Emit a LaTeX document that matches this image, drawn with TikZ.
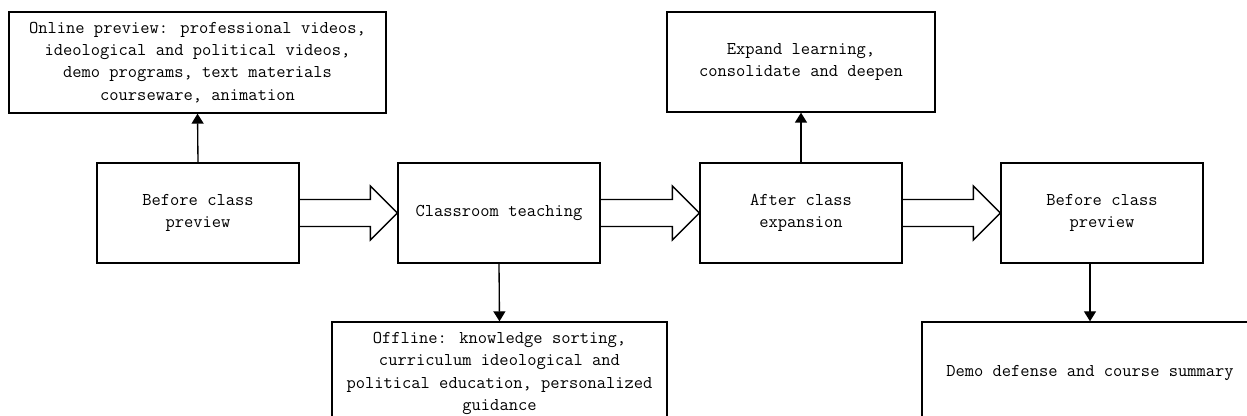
\documentclass[tikz,border=0pt]{standalone}
\usetikzlibrary{calc}
\usetikzlibrary{arrows.meta}
\tikzset{
  stagebox/.style={draw=black, line width=1pt, inner sep=0pt, align=center,
    font=\fontsize{13.5}{16.7}\selectfont\ttfamily},
  flowline/.style={black, line width=1pt, -{Triangle[length=7.5pt,width=9pt]}},
  bigarrow/.style={black, line width=1pt, line join=miter}
}
\begin{document}
\begin{tikzpicture}[x=0.75pt, y=-0.75pt]
\useasboundingbox (0,0) rectangle (1247,416);
\clip (0,0) rectangle (1247,416);
\node[stagebox, minimum width=151.5pt, minimum height=75pt] (pre) at (198,213) {Before class\\preview};
\node[stagebox, minimum width=151.5pt, minimum height=75pt] (teach) at (499,213) {Classroom teaching};
\node[stagebox, minimum width=151.5pt, minimum height=75pt] (post) at (801,213) {After class\\expansion};
\node[stagebox, minimum width=151.5pt, minimum height=75pt] (pre2) at (1102,213) {Before class\\preview};
\node[stagebox, minimum width=282.75pt, minimum height=75.75pt] (online) at (197.5,62.5) {Online preview: professional videos,\\ideological and political videos,\\demo programs, text materials\\courseware, animation};
\node[stagebox, minimum width=201pt, minimum height=75pt] (expand) at (801,62) {Expand learning,\\consolidate and deepen};
\node[stagebox, minimum width=251.25pt, minimum height=77.25pt] (offline) at (499.5,373.5) {Offline: knowledge sorting,\\curriculum ideological and\\political education, personalized\\guidance};
\node[stagebox, minimum width=252pt, minimum height=76.5pt] (summary) at (1090,373) {Demo defense and course summary};
\foreach \a/\b in {pre/teach, teach/post, post/pre2} {
 \draw[bigarrow] ($(\a.east)+(0,-13.5)$) -- ($(\b.west)+(-27,-13.5)$) -- ($(\b.west)+(-27,-27)$) -- (\b.west)
   -- ($(\b.west)+(-27,27)$) -- ($(\b.west)+(-27,13.5)$) -- ($(\a.east)+(0,13.5)$);
}
\draw[flowline] (pre.north) -- (online.south);
\draw[flowline] (post.north) -- (expand.south);
\draw[flowline] (teach.south) -- (offline.north);
\draw[flowline] (summary.north |- pre2.south) -- (summary.north);
\end{tikzpicture}
\end{document}
